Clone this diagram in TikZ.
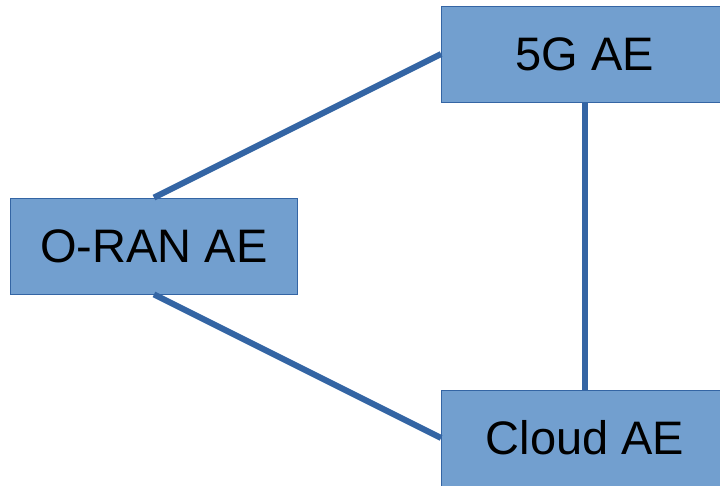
\documentclass[tikz,border=0pt]{standalone}
\usepackage{fontspec}
\setmainfont{Liberation Sans}
\definecolor{boxfill}{HTML}{729FCF}
\definecolor{linkblue}{HTML}{3465A4}
\begin{document}
\begin{tikzpicture}[x=1pt,y=-1pt,
  aebox/.style={draw=linkblue, line width=0.8pt, fill=boxfill, inner sep=0pt,
    minimum width=287pt, minimum height=96pt,
    font=\fontsize{47}{56}\selectfont},
  link/.style={draw=linkblue, line width=6pt}]
\useasboundingbox (0,0) rectangle (720,486);
\clip (0,0) rectangle (720,486);
\node[aebox] (fiveg) at (585,54) {5G AE};
\node[aebox] (oran) at (154,246) {O-RAN AE};
\node[aebox] (cloud) at (585,438) {Cloud AE};
\draw[link] (oran.north) -- (fiveg.west);
\draw[link] (oran.south) -- (cloud.west);
\draw[link] (fiveg.south) -- (cloud.north);
\end{tikzpicture}
\end{document}
